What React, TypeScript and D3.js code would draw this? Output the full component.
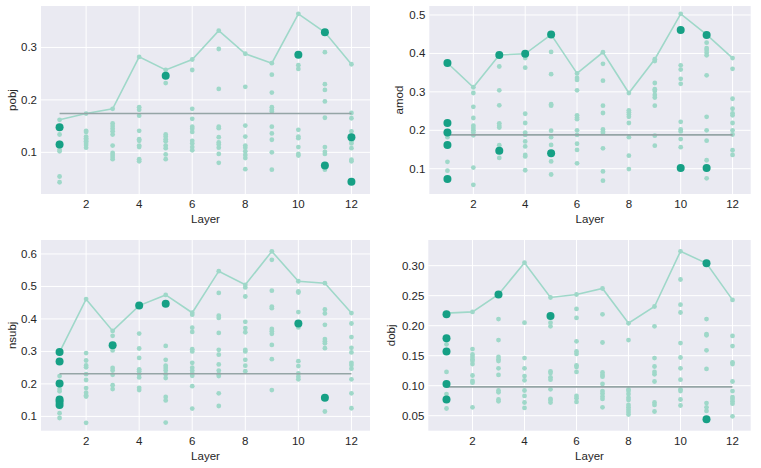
import React from 'react';
import * as d3 from 'd3';

const layers = [1, 2, 3, 4, 5, 6, 7, 8, 9, 10, 11, 12];
const xTicks = [2, 4, 6, 8, 10, 12];

// light points, one list per layer
const pobjPoints = [
  [0.162, 0.146, 0.134, 0.118, 0.105, 0.102, 0.054, 0.043],
  [0.174, 0.141, 0.139, 0.130, 0.127, 0.124, 0.121, 0.118, 0.114, 0.109],
  [0.183, 0.155, 0.150, 0.145, 0.140, 0.134, 0.113, 0.099, 0.095, 0.091, 0.087],
  [0.282, 0.186, 0.181, 0.170, 0.141, 0.125, 0.122, 0.113, 0.110, 0.087, 0.083],
  [0.257, 0.246, 0.232, 0.134, 0.130, 0.125, 0.121, 0.113, 0.108, 0.096, 0.087],
  [0.277, 0.257, 0.183, 0.164, 0.149, 0.145, 0.139, 0.122, 0.117, 0.110, 0.104],
  [0.332, 0.297, 0.221, 0.149, 0.146, 0.129, 0.119, 0.115, 0.109, 0.097, 0.080],
  [0.288, 0.225, 0.151, 0.130, 0.113, 0.109, 0.102, 0.095, 0.089, 0.068],
  [0.270, 0.248, 0.214, 0.186, 0.181, 0.178, 0.149, 0.136, 0.124, 0.100, 0.067],
  [0.364, 0.286, 0.266, 0.259, 0.143, 0.130, 0.127, 0.110, 0.097, 0.094],
  [0.329, 0.291, 0.230, 0.219, 0.197, 0.166, 0.110, 0.101, 0.097, 0.075, 0.067],
  [0.268, 0.175, 0.165, 0.140, 0.129, 0.121, 0.117, 0.108, 0.086, 0.083, 0.044],
];
const pobjMarked: [number, number][] = [
  [1, 0.148], [1, 0.115], [5, 0.246], [10, 0.286], [11, 0.329], [11, 0.075], [12, 0.129], [12, 0.044],
];
const pobjBase = 0.174;

const amodPoints = [
  [0.375, 0.219, 0.194, 0.182, 0.162, 0.118, 0.095, 0.073],
  [0.312, 0.297, 0.261, 0.232, 0.212, 0.206, 0.200, 0.194, 0.187, 0.103, 0.058],
  [0.396, 0.366, 0.304, 0.265, 0.218, 0.212, 0.207, 0.161, 0.147, 0.128],
  [0.399, 0.388, 0.363, 0.243, 0.219, 0.194, 0.188, 0.171, 0.158, 0.136, 0.132, 0.096],
  [0.449, 0.404, 0.346, 0.268, 0.264, 0.199, 0.182, 0.162, 0.140, 0.119, 0.085],
  [0.348, 0.336, 0.331, 0.304, 0.239, 0.233, 0.229, 0.200, 0.188, 0.165, 0.149, 0.114],
  [0.403, 0.373, 0.329, 0.264, 0.245, 0.202, 0.197, 0.193, 0.153, 0.093, 0.069],
  [0.297, 0.252, 0.247, 0.241, 0.235, 0.219, 0.182, 0.134, 0.099],
  [0.385, 0.380, 0.323, 0.307, 0.302, 0.292, 0.285, 0.264, 0.186, 0.160],
  [0.503, 0.461, 0.369, 0.358, 0.334, 0.321, 0.222, 0.202, 0.197, 0.177, 0.156, 0.102],
  [0.449, 0.428, 0.414, 0.409, 0.402, 0.395, 0.343, 0.235, 0.200, 0.173, 0.122, 0.102, 0.075],
  [0.388, 0.360, 0.282, 0.256, 0.244, 0.239, 0.219, 0.200, 0.189, 0.148, 0.136],
];
const amodMarked: [number, number][] = [
  [1, 0.375], [1, 0.219], [1, 0.194], [1, 0.162], [1, 0.073], [3, 0.396], [3, 0.147],
  [4, 0.399], [5, 0.449], [5, 0.140], [10, 0.461], [10, 0.102], [11, 0.448], [11, 0.102],
];
const amodBase = 0.188;

const nsubjPoints = [
  [0.298, 0.269, 0.224, 0.201, 0.184, 0.177, 0.152, 0.145, 0.135, 0.110, 0.095],
  [0.461, 0.295, 0.272, 0.257, 0.251, 0.230, 0.212, 0.187, 0.173, 0.165, 0.161, 0.080],
  [0.363, 0.348, 0.319, 0.303, 0.249, 0.241, 0.228, 0.196, 0.184],
  [0.441, 0.355, 0.309, 0.280, 0.245, 0.239, 0.230, 0.220, 0.188, 0.181],
  [0.474, 0.447, 0.317, 0.274, 0.256, 0.249, 0.241, 0.230, 0.218, 0.160, 0.149, 0.081],
  [0.419, 0.413, 0.373, 0.360, 0.307, 0.300, 0.265, 0.250, 0.241, 0.232, 0.225, 0.193, 0.124],
  [0.547, 0.480, 0.410, 0.403, 0.357, 0.305, 0.290, 0.260, 0.241, 0.230, 0.224, 0.171, 0.132],
  [0.505, 0.497, 0.469, 0.391, 0.372, 0.359, 0.305, 0.300, 0.274, 0.256, 0.239],
  [0.608, 0.582, 0.487, 0.438, 0.433, 0.369, 0.362, 0.354, 0.320, 0.276, 0.181],
  [0.516, 0.485, 0.481, 0.421, 0.386, 0.374, 0.270, 0.255, 0.232, 0.222, 0.214],
  [0.510, 0.429, 0.417, 0.382, 0.338, 0.331, 0.325, 0.310, 0.157, 0.115],
  [0.418, 0.386, 0.344, 0.311, 0.297, 0.265, 0.258, 0.247, 0.214, 0.171, 0.125],
];
const nsubjMarked: [number, number][] = [
  [1, 0.298], [1, 0.269], [1, 0.201], [1, 0.152], [1, 0.145], [1, 0.135],
  [3, 0.319], [4, 0.441], [5, 0.447], [10, 0.386], [11, 0.157],
];
const nsubjBase = 0.231;

const dobjPoints = [
  [0.221, 0.179, 0.169, 0.157, 0.123, 0.103, 0.086, 0.077, 0.062],
  [0.223, 0.161, 0.152, 0.148, 0.144, 0.141, 0.136, 0.117, 0.108, 0.105, 0.064],
  [0.252, 0.211, 0.176, 0.148, 0.144, 0.141, 0.129, 0.118, 0.092, 0.089, 0.077, 0.074],
  [0.305, 0.205, 0.146, 0.129, 0.116, 0.109, 0.092, 0.083, 0.072, 0.063],
  [0.247, 0.216, 0.205, 0.199, 0.124, 0.121, 0.114, 0.110, 0.094, 0.078, 0.076, 0.072],
  [0.252, 0.228, 0.213, 0.174, 0.157, 0.153, 0.134, 0.131, 0.123, 0.083, 0.079, 0.073],
  [0.262, 0.219, 0.172, 0.122, 0.118, 0.115, 0.103, 0.091, 0.087, 0.082, 0.078, 0.064],
  [0.204, 0.176, 0.094, 0.091, 0.086, 0.080, 0.076, 0.068, 0.064, 0.060, 0.056, 0.052],
  [0.232, 0.199, 0.146, 0.132, 0.123, 0.119, 0.107, 0.072, 0.068, 0.057],
  [0.324, 0.277, 0.235, 0.222, 0.171, 0.147, 0.129, 0.110, 0.094, 0.091, 0.077, 0.067],
  [0.304, 0.211, 0.186, 0.184, 0.159, 0.128, 0.071, 0.064, 0.058, 0.044],
  [0.243, 0.183, 0.166, 0.139, 0.136, 0.107, 0.091, 0.081, 0.078, 0.074, 0.070, 0.049],
];
const dobjMarked: [number, number][] = [
  [1, 0.219], [1, 0.179], [1, 0.157], [1, 0.103], [1, 0.077], [3, 0.252], [5, 0.216], [11, 0.304], [11, 0.044],
];
const dobjBase = 0.098;

const LIGHT = '#9fd8c9';
const DARK = '#16a085';
const GREY = '#95a5a6';
const BG = '#eaeaf2';
const TEXT = '#262626';
const FONT = '"Liberation Sans", Arial, sans-serif';
const FS = 11.5;

interface PanelProps {
  label: string;
  points: number[][];
  marked: [number, number][];
  base: number;
  box: { x0: number; x1: number; y0: number; y1: number };
  yDomain: [number, number];
  yTicks: number[];
  fmt: string;
  labelX: number;
}

const Panel = ({ label, points, marked, base, box, yDomain, yTicks, fmt, labelX }: PanelProps) => {
  const x = d3.scaleLinear().domain([0.3, 12.7]).range([box.x0, box.x1]);
  const y = d3.scaleLinear().domain(yDomain).range([box.y1, box.y0]);
  const f = d3.format(fmt);
  const maxLine = d3.line<number>()
    .x((_, i) => x(layers[i]))
    .y((d) => y(d));
  const maxes = points.map((p) => d3.max(p) as number);

  return (
    <g fontFamily={FONT} fill={TEXT}>
      <rect x={box.x0} y={box.y0} width={box.x1 - box.x0} height={box.y1 - box.y0} fill={BG} />
      {xTicks.map((t) => (
        <line key={'gx' + t} x1={x(t)} x2={x(t)} y1={box.y0} y2={box.y1} stroke="#fff" strokeWidth={1} />
      ))}
      {yTicks.map((t) => (
        <line key={'gy' + t} x1={box.x0} x2={box.x1} y1={y(t)} y2={y(t)} stroke="#fff" strokeWidth={1} />
      ))}
      {points.map((p, i) =>
        p.map((v, j) => (
          <circle key={`p${i}-${j}`} cx={x(layers[i])} cy={y(v)} r={2.4} fill={LIGHT} />
        ))
      )}
      <path d={maxLine(maxes) as string} fill="none" stroke={LIGHT} strokeWidth={1.6} />
      <line x1={x(1)} x2={x(12)} y1={y(base)} y2={y(base)} stroke={GREY} strokeWidth={1.6} />
      {marked.map(([l, v], i) => (
        <circle key={'m' + i} cx={x(l)} cy={y(v)} r={4} fill={DARK} />
      ))}
      {xTicks.map((t) => (
        <text key={'tx' + t} x={x(t)} y={box.y1 + 14} fontSize={FS} textAnchor="middle">{t}</text>
      ))}
      {yTicks.map((t) => (
        <text key={'ty' + t} x={box.x0 - 4} y={y(t)} dy="0.35em" fontSize={FS} textAnchor="end">{f(t)}</text>
      ))}
      <text x={(box.x0 + box.x1) / 2} y={box.y1 + 29} fontSize={FS} textAnchor="middle">Layer</text>
      <text
        transform={`translate(${labelX},${(box.y0 + box.y1) / 2}) rotate(-90)`}
        fontSize={FS}
        textAnchor="middle"
      >
        {label}
      </text>
    </g>
  );
};

export default function App() {
  return (
    <svg width={761} height={468} style={{ position: 'absolute', left: 0, top: 0, background: '#fff' }}>
      <Panel label="pobj" points={pobjPoints} marked={pobjMarked} base={pobjBase}
        box={{ x0: 41, x1: 370, y0: 6, y1: 194 }} yDomain={[0.0206, 0.379]}
        yTicks={[0.1, 0.2, 0.3]} fmt=".1f" labelX={16} />
      <Panel label="amod" points={amodPoints} marked={amodMarked} base={amodBase}
        box={{ x0: 429.3, x1: 750.7, y0: 6, y1: 194 }} yDomain={[0.0342, 0.5234]}
        yTicks={[0.1, 0.2, 0.3, 0.4, 0.5]} fmt=".1f" labelX={403} />
      <Panel label="nsubj" points={nsubjPoints} marked={nsubjMarked} base={nsubjBase}
        box={{ x0: 41, x1: 370, y0: 240, y1: 430.7 }} yDomain={[0.0559, 0.643]}
        yTicks={[0.1, 0.2, 0.3, 0.4, 0.5, 0.6]} fmt=".1f" labelX={16} />
      <Panel label="dobj" points={dobjPoints} marked={dobjMarked} base={dobjBase}
        box={{ x0: 428.3, x1: 750.7, y0: 240, y1: 430.7 }} yDomain={[0.025, 0.3428]}
        yTicks={[0.05, 0.1, 0.15, 0.2, 0.25, 0.3]} fmt=".2f" labelX={395} />
    </svg>
  );
}
